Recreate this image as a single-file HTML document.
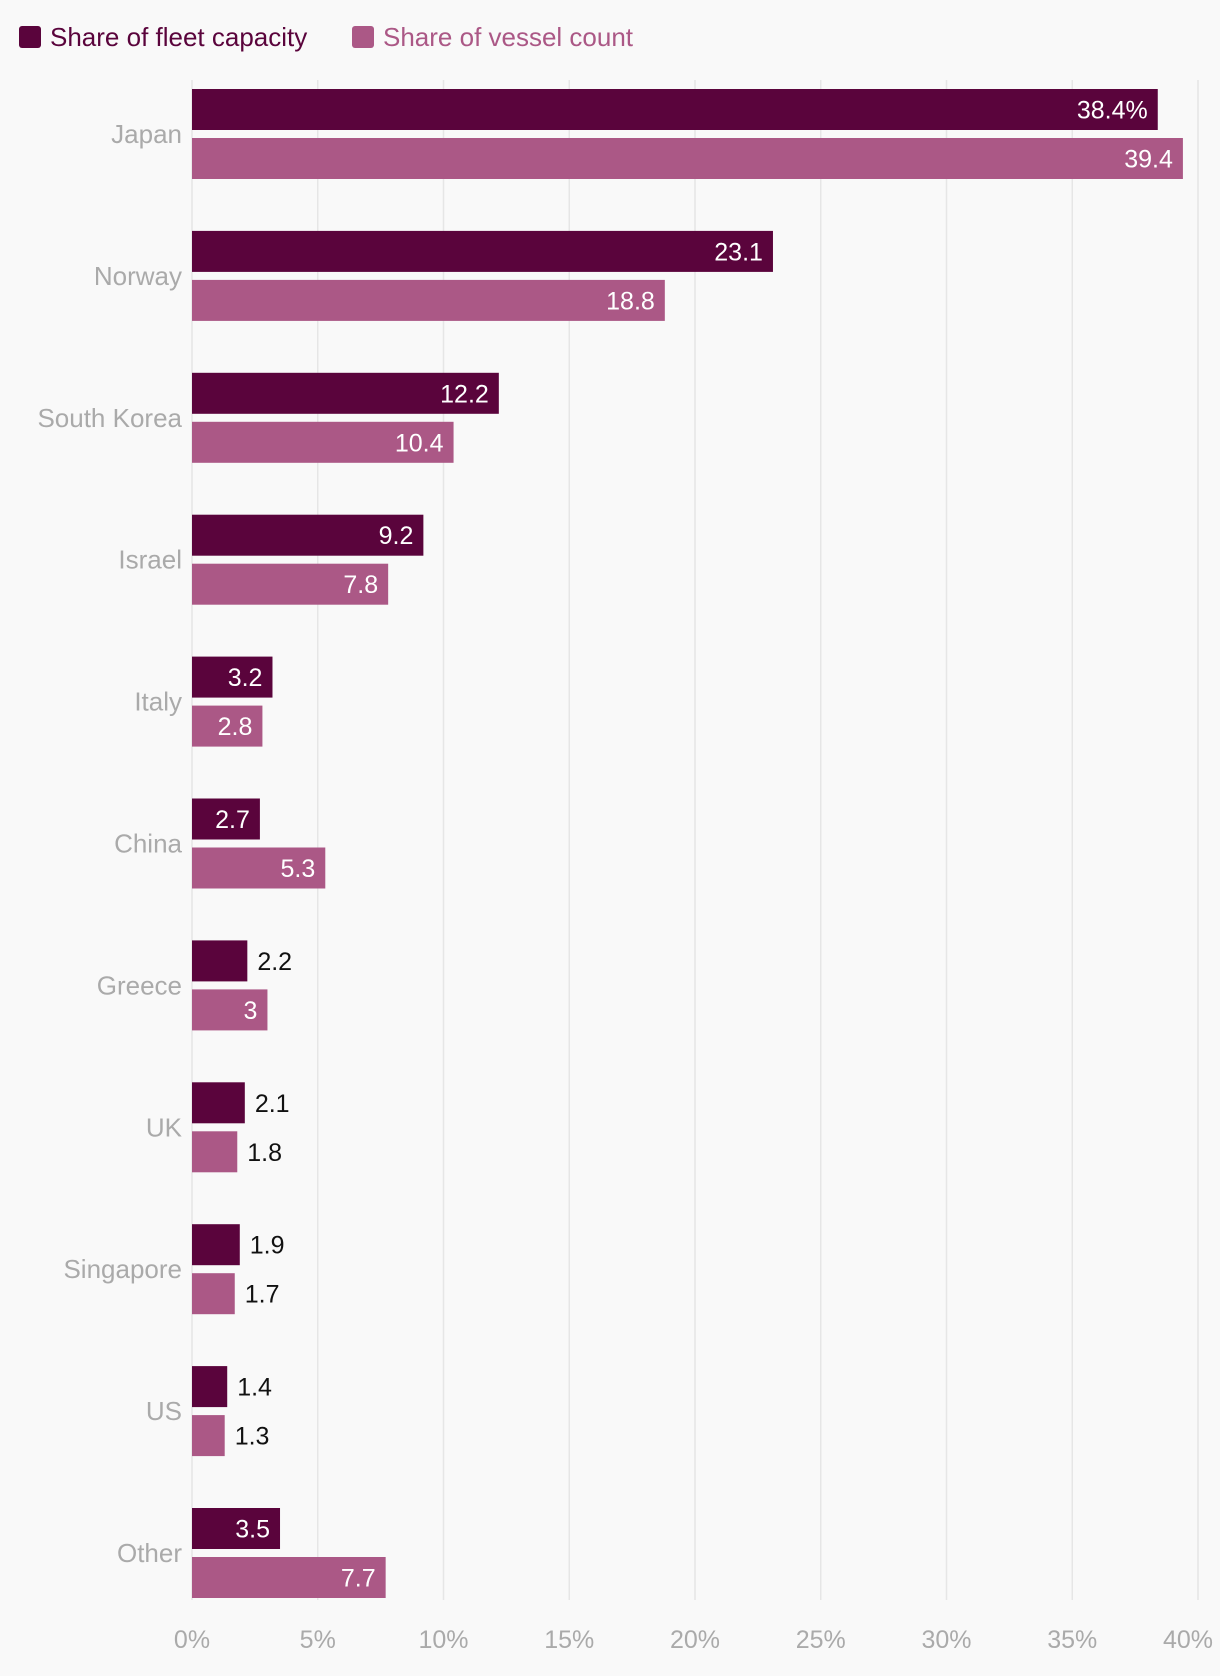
<!DOCTYPE html>
<html><head><meta charset="utf-8"><style>
body{margin:0;background:#f9f9f9;font-family:"Liberation Sans",sans-serif;}
svg{display:block}
</style></head><body>
<svg id="c" width="1220" height="1676">
<g>
 <g>
  <rect x="19" y="26" width="22" height="22" rx="3" fill="#5a043c"/>
  <text x="50" y="46" font-size="26" fill="#5a043c">Share of fleet capacity</text>
 </g>
 <g>
  <rect x="352" y="26" width="22" height="22" rx="3" fill="#ab5886"/>
  <text x="383" y="46" font-size="26" fill="#ab5886">Share of vessel count</text>
 </g>
</g>
<g id="grid"></g><g id="bars"></g><g id="labels"></g>
</svg>
<script>
const categories=["Japan","Norway","South Korea","Israel","Italy","China","Greece","UK","Singapore","US","Other"];
const fleetCapacity=[38.4,23.1,12.2,9.2,3.2,2.7,2.2,2.1,1.9,1.4,3.5];
const vesselCount=[39.4,18.8,10.4,7.8,2.8,5.3,3,1.8,1.7,1.3,7.7];
const ticks=[0,5,10,15,20,25,30,35,40];
const NS="http://www.w3.org/2000/svg";
const x0=192,pxPer=25.15,top0=89,step=141.9,bh=41,gap=8;
const X=v=>x0+v*pxPer;
const Y=i=>top0+i*step;
function mk(t,a,p){const e=document.createElementNS(NS,t);for(const k in a)e.setAttribute(k,a[k]);p.appendChild(e);return e;}
const grid=document.getElementById('grid'),bars=document.getElementById('bars'),labels=document.getElementById('labels');
ticks.forEach(t=>{
 const l=mk('line',{x1:X(t),x2:X(t),y1:80,y2:1600,stroke:'#e6e6e6','stroke-width':1.5},grid);
 
 
 const tx=mk('text',{x:t===40?X(t)-10:X(t),y:1648,'font-size':25,fill:'#aaa','text-anchor':'middle'},grid);
 tx.textContent=t+'%';
 
 
});
categories.forEach((c,i)=>{
 const cl=mk('text',{x:182,y:Y(i)+bh+gap/2+9,'font-size':26,fill:'#aaa','text-anchor':'end'},labels);
 cl.textContent=c;
 
 
 [[fleetCapacity[i],'#5a043c','fleet',0],[vesselCount[i],'#ab5886','vessel',1]].forEach(([v,col,nm,k])=>{
  const y=Y(i)+k*(bh+gap);
  const r=mk('rect',{x:x0,y:y,width:X(v)-x0,height:bh,fill:col},bars);
  
  
  const txt=(i===0&&k===0)?v+'%':String(v);
  const inside=v>=2.5;
  const t=mk('text',{x:inside?X(v)-10:X(v)+10,y:y+bh/2+9,'font-size':25,fill:inside?'#fff':'#111','text-anchor':inside?'end':'start'},labels);
  t.textContent=txt;
  
  
 });
});
</script>
</body></html>
